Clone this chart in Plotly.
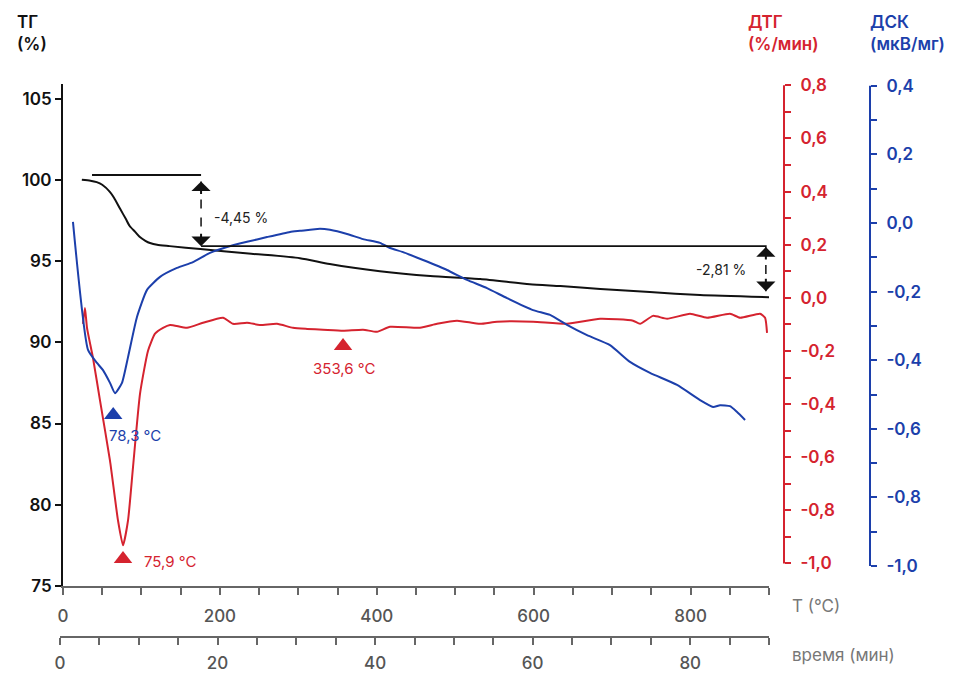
import plotly.graph_objects as go

# ---------------- data ----------------
# TG (%) vs temperature (°C)
tg_T = [24, 35, 43, 50, 60, 65, 73, 80, 85, 92, 98, 105, 111, 120, 136, 175, 240, 302, 340,
        404, 468, 532, 595, 634, 685, 748, 812, 900]
tg_v = [100.0, 99.95, 99.86, 99.7, 99.25, 98.9, 98.2, 97.6, 97.16, 96.8, 96.48, 96.25, 96.11,
        96.0, 95.92, 95.74, 95.45, 95.18, 94.82, 94.38, 94.08, 93.89, 93.58, 93.46, 93.28,
        93.09, 92.91, 92.78]

# DTG (%/min)
dtg_T = [25.5, 28.0, 30.6, 38.2, 47.2, 59.9, 70.1, 76.5, 82.9, 89.2, 98.2, 108.4, 117.3, 127.5,
         136.4, 158.1, 178.5, 204.0, 216.7, 234.6, 251.1, 272.8, 293.2, 311.1, 331.5, 357.0,
         382.5, 400.3, 416.9, 455.1, 476.8, 502.3, 531.6, 553.3, 599.2, 642.5, 684.6, 726.7,
         735.6, 752.2, 770.0, 799.3, 821.0, 850.3, 863.1, 888.6, 895.0, 897.5]
dtg_v = [-0.098, -0.038, -0.113, -0.226, -0.387, -0.613, -0.838, -0.932, -0.838, -0.639,
         -0.361, -0.199, -0.135, -0.113, -0.102, -0.113, -0.094, -0.075, -0.098, -0.094,
         -0.102, -0.098, -0.113, -0.117, -0.120, -0.124, -0.120, -0.128, -0.109, -0.113,
         -0.098, -0.086, -0.098, -0.090, -0.090, -0.098, -0.079, -0.086, -0.098, -0.068,
         -0.079, -0.060, -0.075, -0.060, -0.075, -0.060, -0.075, -0.132]

# DSC (µV/mg)
dsc_T = [12.7, 31.9, 43.3, 51.0, 59.9, 66.3, 75.2, 82.9, 94.3, 107.1, 123.7, 145.3, 165.7,
         187.4, 209.1, 234.6, 260.1, 289.4, 302.1, 327.6, 340.4, 362.1, 382.5, 404.1, 416.9,
         433.5, 459.0, 489.5, 515.0, 540.5, 566.0, 599.2, 620.9, 642.5, 668.0, 697.3, 722.8,
         748.3, 782.8, 812.1, 828.7, 837.6, 850.3, 859.3, 869.5]
dsc_v = [0.003, -0.370, -0.408, -0.429, -0.466, -0.496, -0.466, -0.391, -0.274, -0.195,
         -0.157, -0.131, -0.114, -0.087, -0.070, -0.055, -0.041, -0.026, -0.023, -0.017,
         -0.020, -0.032, -0.047, -0.058, -0.073, -0.085, -0.108, -0.137, -0.166, -0.190,
         -0.219, -0.254, -0.268, -0.297, -0.327, -0.356, -0.405, -0.437, -0.472, -0.516,
         -0.536, -0.531, -0.534, -0.551, -0.574]

# peak markers: (T, value, label)
dsc_peak = (64, -0.56, "78,3 °C")
dtg_peaks = [(76.5, -0.983, "75,9 °C"), (357, -0.181, "353,6 °C")]

# mass-loss steps
tg_top_level = 100.3
tg_mid_level = 95.92
step_labels = ["-4,45 %", "-2,81 %"]
step1_T, step2_T = 176, 896
upper_line_T = [37, 176]
lower_line_T = [176, 897]
arrow1 = (99.9, 95.92)
arrow2 = (95.86, 93.15)

# axis ticks
tg_ticks = [75, 80, 85, 90, 95, 100, 105]
T_ticks = list(range(0, 901, 50))
time_ticks = list(range(0, 91, 5))
dtg_k = list(range(-10, 9))
dsc_k = list(range(-10, 5))

RED = "#d5232f"
BLUE = "#1c3fab"
BLACK = "#111111"
GRAY = "#666666"
FONT = "Inter, Roboto, sans-serif"

# ---------------- figure ----------------
fig = go.Figure()
fig.add_trace(go.Scatter(x=tg_T, y=tg_v, mode="lines",
                         line=dict(color=BLACK, width=2, shape="spline", smoothing=0.6),
                         xaxis="x", yaxis="y", hoverinfo="skip"))
fig.add_trace(go.Scatter(x=dtg_T, y=dtg_v, mode="lines",
                         line=dict(color=RED, width=2, shape="spline", smoothing=0.5),
                         xaxis="x", yaxis="y2", hoverinfo="skip"))
fig.add_trace(go.Scatter(x=dsc_T, y=dsc_v, mode="lines",
                         line=dict(color=BLUE, width=2, shape="spline", smoothing=0.5),
                         xaxis="x", yaxis="y3", hoverinfo="skip"))
# peak triangles
fig.add_trace(go.Scatter(x=[dsc_peak[0]], y=[dsc_peak[1]], mode="markers",
                         marker=dict(symbol="triangle-up", size=16, color=BLUE),
                         xaxis="x", yaxis="y3", hoverinfo="skip"))
fig.add_trace(go.Scatter(x=[p[0] for p in dtg_peaks], y=[p[1] for p in dtg_peaks], mode="markers",
                         marker=dict(symbol="triangle-up", size=16, color=RED),
                         xaxis="x", yaxis="y2", hoverinfo="skip"))
# dummy trace for time axis
fig.add_trace(go.Scatter(x=[0, 90], y=[None, None], mode="lines", xaxis="x2", yaxis="y",
                         hoverinfo="skip"))

W, H = 962, 675
ml, mr, mt, mb = 58, 10, 84, 38
pw, ph = W - ml - mr, H - mt - mb


def px(x):
    return (x - ml) / pw


def py(y):
    return (H - mb - y) / ph


pos_dtg = px(784)
pos_dsc = px(870)


def lab(k):
    return f"{k/10:.1f}".replace(".", ",")


fig.update_layout(
    width=W, height=H, margin=dict(l=ml, r=mr, t=mt, b=mb, autoexpand=False),
    paper_bgcolor="white", plot_bgcolor="rgba(0,0,0,0)", showlegend=False,
    font=dict(family=FONT, size=16, color=BLACK),
    xaxis=dict(domain=[px(63), px(769)], range=[0, 900], anchor="y", showgrid=False, zeroline=False,
               automargin=False,
               showline=True, linecolor=GRAY, linewidth=2, ticks="outside", ticklen=7, tickwidth=1.5,
               tickcolor=GRAY, tickvals=T_ticks, ticklabelstandoff=7,
               ticktext=[str(t) if t % 200 == 0 else "" for t in T_ticks],
               tickfont=dict(size=17, color="#555555", weight=500)),
    xaxis2=dict(domain=[px(60), px(769)], range=[0, 90], anchor="free", position=0, showgrid=False,
                automargin=False,
                zeroline=False, showline=True, linecolor=GRAY, linewidth=2, ticks="outside", ticklen=7,
                tickwidth=1.5, tickcolor=GRAY, tickvals=time_ticks, ticklabelstandoff=4,
                ticktext=[str(t) if t % 20 == 0 else "" for t in time_ticks],
                tickfont=dict(size=17, color="#555555", weight=500)),
    yaxis=dict(domain=[py(586), 1], range=[75, 105.9], anchor="x", showgrid=False, zeroline=False,
               automargin=False,
               showline=True, linecolor=BLACK, linewidth=2, ticks="outside", ticklen=6, tickwidth=1.5,
               tickcolor=BLACK, tickvals=tg_ticks, ticktext=[str(t) for t in tg_ticks],
               tickfont=dict(size=17, color=BLACK, weight=600)),
    yaxis2=dict(overlaying="y", anchor="free", position=pos_dtg, side="right", range=[-1.085, 0.805],
                automargin=False,
                showgrid=False, zeroline=False, showline=False, ticks="outside", ticklen=6, tickwidth=1.5,
                tickcolor=RED, tickvals=[k / 10 for k in dtg_k],
                ticktext=[lab(k) if k % 2 == 0 else "" for k in dtg_k], ticklabelstandoff=6,
                tickfont=dict(size=17, color=RED, weight=600)),
    yaxis3=dict(overlaying="y", anchor="free", position=pos_dsc, side="right", range=[-1.058, 0.405],
                automargin=False,
                showgrid=False, zeroline=False, showline=False, ticks="outside", ticklen=6, tickwidth=1.5,
                tickcolor=BLUE, tickvals=[k / 10 for k in dsc_k],
                ticktext=[lab(k) if k % 2 == 0 else "" for k in dsc_k], ticklabelstandoff=6,
                tickfont=dict(size=17, color=BLUE, weight=600)),
)

shapes = [
    dict(type="line", xref="paper", yref="y2", x0=pos_dtg, x1=pos_dtg, y0=-1.0, y1=0.8,
         line=dict(color=RED, width=2)),
    dict(type="line", xref="paper", yref="y3", x0=pos_dsc, x1=pos_dsc, y0=-1.0, y1=0.4,
         line=dict(color=BLUE, width=2)),
    dict(type="line", xref="x", yref="y", x0=upper_line_T[0], x1=upper_line_T[1], y0=tg_top_level,
         y1=tg_top_level, line=dict(color=BLACK, width=1.8)),
    dict(type="line", xref="x", yref="y", x0=lower_line_T[0], x1=lower_line_T[1], y0=tg_mid_level,
         y1=tg_mid_level, line=dict(color=BLACK, width=1.8)),
    dict(type="line", xref="x", yref="y", x0=step1_T, x1=step1_T, y0=arrow1[0], y1=arrow1[1],
         line=dict(color=BLACK, width=1.5, dash="dash")),
    dict(type="line", xref="x", yref="y", x0=step2_T, x1=step2_T, y0=arrow2[0], y1=arrow2[1],
         line=dict(color=BLACK, width=1.5, dash="dash")),
]
fig.update_layout(shapes=shapes)

ann = []
# arrow heads
for xT, (ytop, ybot) in [(step1_T, arrow1), (step2_T, arrow2)]:
    ann.append(dict(x=xT, y=ytop, xref="x", yref="y", ax=0, ay=14, text="", showarrow=True,
                    arrowhead=1, arrowsize=1.6, arrowwidth=2, arrowcolor=BLACK))
    ann.append(dict(x=xT, y=ybot, xref="x", yref="y", ax=0, ay=-14, text="", showarrow=True,
                    arrowhead=1, arrowsize=1.6, arrowwidth=2, arrowcolor=BLACK))
ann.append(dict(x=190, y=97.71, xref="x", yref="y", text=step_labels[0], showarrow=False,
                xanchor="left", yanchor="middle", font=dict(size=14, color="#222222")))
ann.append(dict(x=873, y=94.51, xref="x", yref="y", text=step_labels[1], showarrow=False,
                xanchor="right", yanchor="middle", font=dict(size=14, color="#222222")))
# peak labels
ann.append(dict(x=56, y=-0.618, xref="x", yref="y3", text=dsc_peak[2], showarrow=False,
                xanchor="left", yanchor="middle", font=dict(size=15, color=BLUE)))
ann.append(dict(x=100.7, y=-0.991, xref="x", yref="y2", text=dtg_peaks[0][2], showarrow=False,
                xanchor="left", yanchor="middle", font=dict(size=15, color=RED)))
ann.append(dict(x=357.6, y=-0.267, xref="x", yref="y2", text=dtg_peaks[1][2], showarrow=False,
                xanchor="center", yanchor="middle", font=dict(size=15, color=RED)))
# axis titles
ann.append(dict(x=px(15), y=py(10), xref="paper", yref="paper", text="ТГ<br>(%)", showarrow=False,
                xanchor="left", yanchor="top", align="left",
                font=dict(size=17, color=BLACK, weight=600)))
ann.append(dict(x=px(746), y=py(10), xref="paper", yref="paper", text="ДТГ<br>(%/мин)",
                showarrow=False, xanchor="left", yanchor="top", align="left",
                font=dict(size=17, color=RED, weight=600)))
ann.append(dict(x=px(868), y=py(10), xref="paper", yref="paper", text="ДСК<br>(мкВ/мг)",
                showarrow=False, xanchor="left", yanchor="top", align="left",
                font=dict(size=17, color=BLUE, weight=600)))
ann.append(dict(x=px(790), y=py(606), xref="paper", yref="paper", text="T (°C)", showarrow=False,
                xanchor="left", yanchor="middle", font=dict(size=17, color="#777777")))
ann.append(dict(x=px(790), y=py(655), xref="paper", yref="paper", text="время (мин)",
                showarrow=False, xanchor="left", yanchor="middle",
                font=dict(size=17, color="#777777")))
fig.update_layout(annotations=ann)

fig.write_html("out.html")
